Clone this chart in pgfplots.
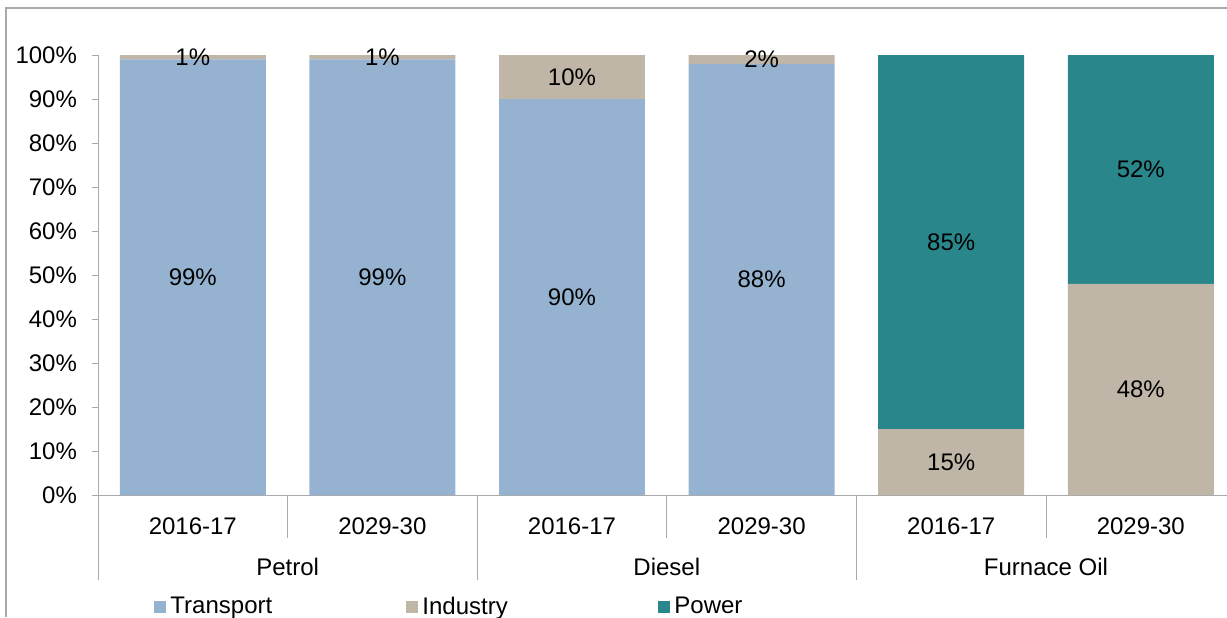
\documentclass[border=0pt]{standalone}
\usepackage{pgfplots}
\pgfplotsset{compat=1.18}
\usepackage{fontspec}
\setmainfont{Liberation Sans}
\definecolor{transp}{RGB}{149,179,208}
\definecolor{indus}{RGB}{191,182,168}
\definecolor{powr}{RGB}{41,135,140}
\definecolor{axgray}{RGB}{170,170,170}

\begin{document}
\begin{tikzpicture}[font=\fontsize{12}{14}\selectfont]
  \useasboundingbox (0,0) rectangle (613.5pt,308.5pt);
  % outer frame
  \draw[axgray, line width=0.6pt] (3pt,0) -- (3pt,304.5pt) -- (613.5pt,304.5pt);

  \begin{axis}[
    at={(49pt,61pt)}, anchor=south west,
    scale only axis, width=568.8pt, height=220pt,
    ybar stacked, bar width=0.77,
    xmin=-0.5, xmax=5.5, ymin=0, ymax=100,
    axis lines*=left,
    axis line style={axgray},
    clip=false,
    xtick={0,...,5},
    xticklabels={2016-17,2029-30,2016-17,2029-30,2016-17,2029-30},
    x tick style={draw=none},
    xticklabel style={yshift=-5pt},
    ytick={0,10,...,100},
    yticklabel={\pgfmathprintnumber{\tick}\%},
    y tick style={axgray},
    tick align=outside, major tick length=3pt,
    yticklabel style={xshift=-4pt},
    /pgf/number format/assume math mode=true,
    legend columns=3,
    legend style={draw=none, fill=none, at={(0.044,-0.2545)}, anchor=west,
      font=\fontsize{12}{14}\selectfont,
      /tikz/every even column/.append style={column sep=0pt}},
    legend image code/.code={\fill[#1, draw=none] (0pt,-3pt) rectangle (6pt,3pt);},
  ]
    \addplot[fill=transp, draw=none] coordinates {(0,99) (1,99) (2,90) (3,98) (4,0) (5,0)};
    \addplot[fill=indus, draw=none] coordinates {(0,1) (1,1) (2,10) (3,2) (4,15) (5,48)};
    \addplot[fill=powr, draw=none] coordinates {(0,0) (1,0) (2,0) (3,0) (4,85) (5,52)};
    \addlegendentry{\makebox[116pt][l]{Transport}}
    \addlegendentry{\makebox[116pt][l]{Industry}}
    \addlegendentry{Power}

    % category separators
    \draw[axgray] (axis cs:0.5,0) -- ([yshift=-21.5pt]axis cs:0.5,0);
    \draw[axgray] (axis cs:2.5,0) -- ([yshift=-21.5pt]axis cs:2.5,0);
    \draw[axgray] (axis cs:4.5,0) -- ([yshift=-21.5pt]axis cs:4.5,0);
    \draw[axgray] (axis cs:-0.5,0) -- ([yshift=-42.5pt]axis cs:-0.5,0);
    \draw[axgray] (axis cs:1.5,0) -- ([yshift=-42.5pt]axis cs:1.5,0);
    \draw[axgray] (axis cs:3.5,0) -- ([yshift=-42.5pt]axis cs:3.5,0);
    \node at ([yshift=-36pt]axis cs:0.5,0) {Petrol};
    \node at ([yshift=-36pt]axis cs:2.5,0) {Diesel};
    \node at ([yshift=-36pt]axis cs:4.5,0) {Furnace Oil};
  \end{axis}

  % data labels
  \begin{axis}[
    at={(49pt,61pt)}, anchor=south west,
    scale only axis, width=568.8pt, height=220pt,
    xmin=-0.5, xmax=5.5, ymin=0, ymax=100,
    hide axis, clip=false,
  ]
    \addplot[draw=none, mark=none, nodes near coords, point meta=explicit symbolic,
      nodes near coords align=center,
      every node near coord/.append style={font=\fontsize{12}{14}\selectfont, inner sep=0pt}]
      coordinates {
        (0,49.5) [99\%] (1,49.5) [99\%] (2,45) [90\%] (3,49) [88\%] (4,57.5) [85\%] (5,74) [52\%]
        (0,99.5) [1\%] (1,99.5) [1\%] (2,95) [10\%] (3,99) [2\%] (4,7.5) [15\%] (5,24) [48\%]
      };
  \end{axis}
\end{tikzpicture}
\end{document}
